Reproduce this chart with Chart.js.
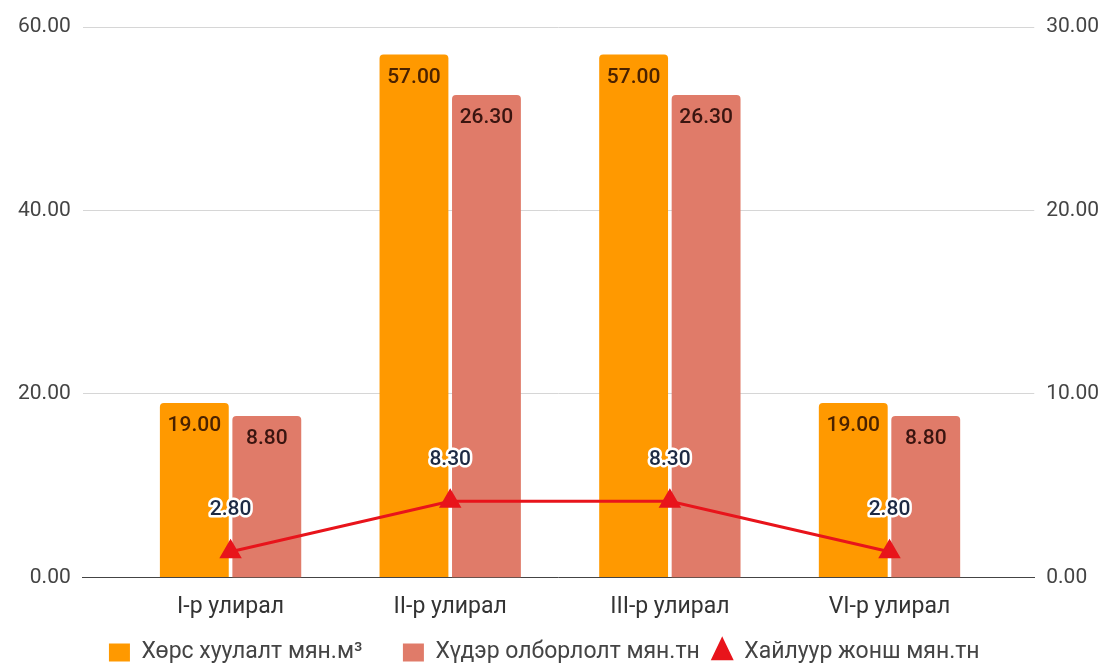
<!DOCTYPE html>
<html>
<head>
<meta charset="utf-8">
<script src="https://cdn.jsdelivr.net/npm/chart.js@4"></script>
<style>
  html, body { margin: 0; padding: 0; background: #fff; }
  #wrap { width: 1113px; height: 666px; }
</style>
</head>
<body>
<div id="wrap"><canvas id="c"></canvas></div>
<script>
const CATEGORIES = ["I-р улирал", "II-р улирал", "III-р улирал", "VI-р улирал"];
const SOIL = [19, 57, 57, 19];        // Хөрс хуулалт мян.м³ (left axis)
const ORE = [8.8, 26.3, 26.3, 8.8];   // Хүдэр олборлолт мян.тн (right axis)
const CONC = [2.8, 8.3, 8.3, 2.8];    // Хайлуур жонш мян.тн (left axis)
const LEFT_TICKS = [0, 20, 40, 60];
const RIGHT_TICKS = [0, 10, 20, 30];

const toPoints = arr => arr.map((v, i) => ({ x: i, y: v }));

// value labels for bars and line points
const valueLabels = {
    id: "valueLabels",
    afterDatasetsDraw(chart) {
        const ctx = chart.ctx;
        ctx.save();
        ctx.font = "500 21px Roboto";
        ctx.textAlign = "center";
        ctx.textBaseline = "middle";
        chart.data.datasets.forEach((ds, di) => {
            const meta = chart.getDatasetMeta(di);
            meta.data.forEach((el, i) => {
                const txt = ds.data[i].y.toFixed(2);
                if (ds.type === "line") {
                    ctx.lineWidth = 5;
                    ctx.lineJoin = "round";
                    ctx.strokeStyle = "#fff";
                    ctx.strokeText(txt, el.x, el.y - 42);
                    ctx.fillStyle = "#1d2a44";
                    ctx.fillText(txt, el.x, el.y - 42);
                } else {
                    ctx.fillStyle = ds.labelColor;
                    ctx.fillText(txt, el.x, el.y + 23);
                }
            });
        });
        ctx.restore();
    }
};

new Chart(document.getElementById("c"), {
    data: {
        datasets: [
            {
                type: "bar",
                label: "Хөрс хуулалт мян.м³",
                data: toPoints(SOIL),
                backgroundColor: "#ff9900",
                labelColor: "#4a2200",
                borderRadius: 4,
                borderSkipped: "bottom",
                barPercentage: 0.95,
                categoryPercentage: 0.66,
                yAxisID: "y",
                pointStyle: "rect",
                order: 2,
            },
            {
                type: "bar",
                label: "Хүдэр олборлолт мян.тн",
                data: toPoints(ORE),
                backgroundColor: "#e07b69",
                labelColor: "#3a1510",
                borderRadius: 4,
                borderSkipped: "bottom",
                barPercentage: 0.95,
                categoryPercentage: 0.66,
                yAxisID: "y1",
                pointStyle: "rect",
                order: 2,
            },
            {
                type: "line",
                label: "Хайлуур жонш мян.тн",
                data: toPoints(CONC),
                borderColor: "#e8141b",
                backgroundColor: "#e8141b",
                borderWidth: 3,
                pointStyle: "triangle",
                pointRadius: 10,
                pointHoverRadius: 10,
                yAxisID: "y",
                order: 1,
            },
        ]
    },
    options: {
        responsive: true,
        maintainAspectRatio: false,
        animation: false,
        layout: { padding: { left: 6, right: 2, top: 27, bottom: -8 } },
        plugins: {
            tooltip: { enabled: false },
            legend: {
                position: "bottom",
                labels: {
                    color: "#444",
                    font: { family: "Roboto", size: 23 },
                    usePointStyle: true,
                    boxHeight: 18,
                    pointStyleWidth: 21,
                    padding: 12,
                    sort: (a, b) => a.datasetIndex - b.datasetIndex,
                    generateLabels: chart => {
                        const items = Chart.defaults.plugins.legend.labels.generateLabels(chart);
                        // extra room between legend entries
                        items.forEach((it, i) => { if (i < items.length - 1) it.text += "     "; });
                        return items;
                    }
                }
            }
        },
        scales: {
            x: {
                type: "linear",
                offset: false,
                min: -0.673,
                max: 3.659,
                grid: { display: false },
                border: { display: true, color: "#444", width: 1 },
                afterBuildTicks: scale => {
                    scale.ticks = scale.ticks.filter(t => Number.isInteger(t.value) && CATEGORIES[t.value]);
                },
                ticks: {
                    stepSize: 1,
                    autoSkip: false,
                    maxRotation: 0,
                    color: "#333",
                    padding: 8,
                    font: { family: "Roboto", size: 23 },
                    callback: v => CATEGORIES[v] || ""
                }
            },
            y: {
                position: "left",
                min: LEFT_TICKS[0],
                max: LEFT_TICKS[LEFT_TICKS.length - 1],
                border: { display: false },
                grid: { color: "#d6d6d6", drawTicks: false },
                ticks: {
                    stepSize: LEFT_TICKS[1] - LEFT_TICKS[0],
                    color: "#444",
                    padding: 12,
                    font: { family: "Roboto", size: 21 },
                    callback: v => v.toFixed(2)
                }
            },
            y1: {
                position: "right",
                min: RIGHT_TICKS[0],
                max: RIGHT_TICKS[RIGHT_TICKS.length - 1],
                border: { display: false },
                grid: { display: false, drawTicks: false },
                ticks: {
                    stepSize: RIGHT_TICKS[1] - RIGHT_TICKS[0],
                    color: "#444",
                    padding: 12,
                    font: { family: "Roboto", size: 21 },
                    callback: v => v.toFixed(2)
                }
            }
        }
    },
    plugins: [valueLabels]
});
</script>
</body>
</html>
